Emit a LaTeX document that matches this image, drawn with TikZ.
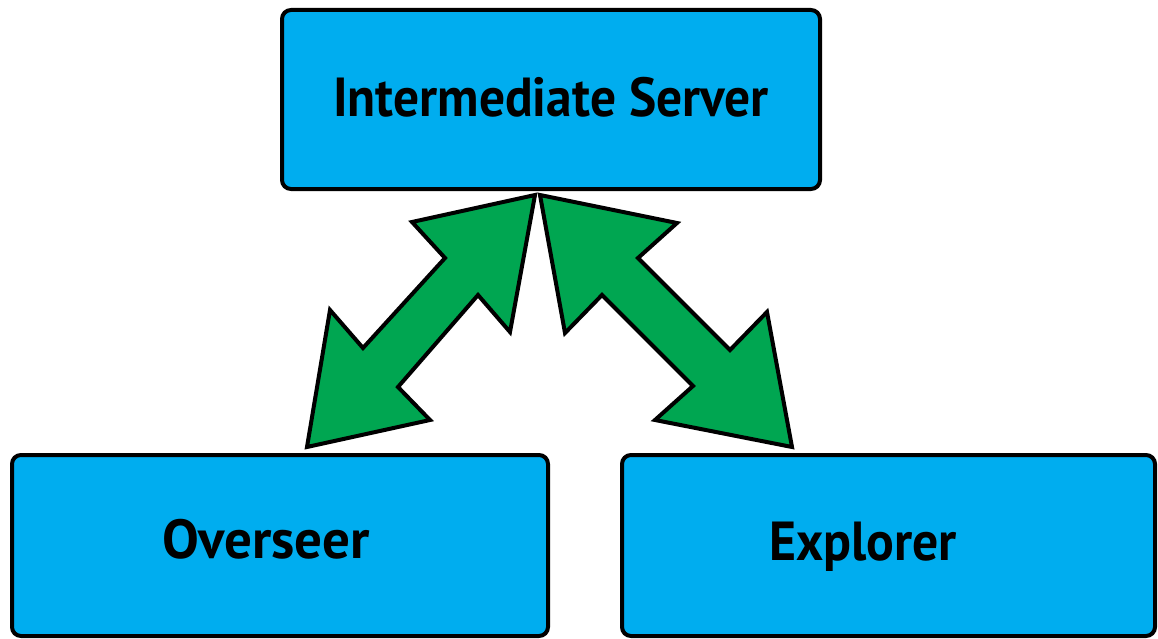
\documentclass[tikz,border=0pt]{standalone}
\usepackage{fontspec}
\setmainfont{PT Sans}
\definecolor{boxblue}{HTML}{00ADEF}
\definecolor{arrgreen}{HTML}{00A651}
\begin{document}
\begin{tikzpicture}[x=1pt,y=-1pt,
  box/.style={draw=black,line width=4pt,fill=boxblue,rounded corners=9pt},
  lbl/.style={font=\fontsize{55}{60}\selectfont\bfseries,anchor=base,inner sep=0pt},
  bigarrow/.style={draw=black,line width=4pt,fill=arrgreen,line join=miter,miter limit=20}]
\useasboundingbox (0,0) rectangle (1158,639);
\draw[box] (282,10) rectangle (820,189);
\draw[box] (12,455) rectangle (548,636);
\draw[box] (622,455) rectangle (1155,636);
\node[lbl] (srv) at (551,117) {\scalebox{0.935}[1]{Intermediate Server}};
\node[lbl] (ovs) at (266,558) {Overseer};
\node[lbl] (exp) at (863,560) {\scalebox{0.94}[1]{Explorer}};
\draw[bigarrow] (535,195) -- (412,222) -- (445,258) -- (363,348) -- (330,310) -- (307,447)
  -- (430,420) -- (398,387) -- (478,295) -- (510,332) -- cycle;
\draw[bigarrow] (540,195) -- (677,223) -- (638,258) -- (730,350) -- (767,312) -- (792,447)
  -- (655,420) -- (693,386) -- (602,295) -- (565,333) -- cycle;
\end{tikzpicture}
\end{document}
